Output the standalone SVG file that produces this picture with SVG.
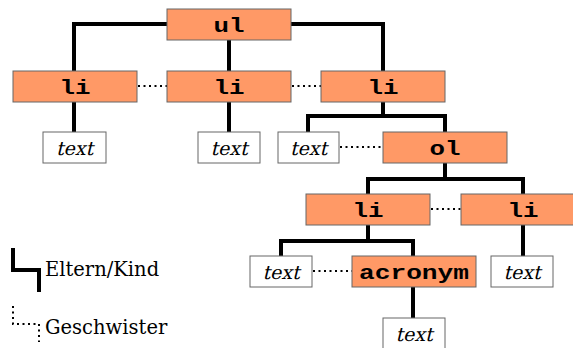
<svg xmlns="http://www.w3.org/2000/svg" width="573" height="348" viewBox="0 0 573 348">
<style>
.el{fill:#ff9966;stroke:#666;stroke-width:1}
.tx{fill:#fff;stroke:#666;stroke-width:1}
.et{font-family:"Liberation Mono","DejaVu Sans Mono",monospace;font-weight:bold;font-size:20px;text-anchor:middle;fill:#000}
.tt{font-family:"DejaVu Serif","Liberation Serif",serif;font-size:19px;text-anchor:middle;fill:#000}
.lg{font-family:"DejaVu Serif",serif;font-size:19.5px;fill:#000}
.pc{fill:none;stroke:#000;stroke-width:4;stroke-linejoin:miter}
.sb{fill:none;stroke:#000;stroke-width:2;stroke-dasharray:2 3.5}
</style>
<rect width="573" height="348" fill="#fff"/>
<g id="connectors">
<path class="pc" d="M167 24 H74 V71"/>
<path class="pc" d="M229 40 V71"/>
<path class="pc" d="M291 24 H383 V71"/>
<path class="pc" d="M74 102 V132"/>
<path class="pc" d="M229 102 V132"/>
<path class="pc" d="M383 102 V116"/>
<path class="pc" d="M308 132 V116 H445 V132"/>
<path class="pc" d="M445 163 V179"/>
<path class="pc" d="M368 194 V179 H523 V194"/>
<path class="pc" d="M368 225 V241"/>
<path class="pc" d="M281 256 V241 H413 V256"/>
<path class="pc" d="M523 225 V256"/>
<path class="pc" d="M413 287 V318"/>
<path class="sb" d="M138 86 H167"/>
<path class="sb" d="M292 86 H321"/>
<path class="sb" d="M340 147 H383"/>
<path class="sb" d="M431 209 H461"/>
<path class="sb" d="M313 271 H352"/>
</g>
<g id="ul"><rect class="el" x="167" y="9" width="124" height="31"/><text class="et" x="229" y="31.5" textLength="31" lengthAdjust="spacingAndGlyphs">ul</text></g>
<g id="li1"><rect class="el" x="13" y="71" width="124" height="31"/><text class="et" x="75" y="93.5" textLength="31" lengthAdjust="spacingAndGlyphs">li</text></g>
<g id="li2"><rect class="el" x="167" y="71" width="124" height="31"/><text class="et" x="229" y="93.5" textLength="31" lengthAdjust="spacingAndGlyphs">li</text></g>
<g id="li3"><rect class="el" x="321" y="71" width="124" height="31"/><text class="et" x="383" y="93.5" textLength="31" lengthAdjust="spacingAndGlyphs">li</text></g>
<g id="text1"><rect class="tx" x="43" y="132" width="63" height="31"/><text class="tt" transform="translate(74.5 154.5) skewX(-14)">text</text></g>
<g id="text2"><rect class="tx" x="198" y="132" width="62" height="31"/><text class="tt" transform="translate(229 154.5) skewX(-14)">text</text></g>
<g id="text3"><rect class="tx" x="278" y="132" width="61" height="31"/><text class="tt" transform="translate(308.5 154.5) skewX(-14)">text</text></g>
<g id="ol"><rect class="el" x="383" y="132" width="124" height="31"/><text class="et" x="445" y="154.5" textLength="31" lengthAdjust="spacingAndGlyphs">ol</text></g>
<g id="li4"><rect class="el" x="306" y="194" width="124" height="31"/><text class="et" x="368" y="216.5" textLength="31" lengthAdjust="spacingAndGlyphs">li</text></g>
<g id="li5"><rect class="el" x="461" y="194" width="124" height="31"/><text class="et" x="523" y="216.5" textLength="31" lengthAdjust="spacingAndGlyphs">li</text></g>
<g id="text4"><rect class="tx" x="250" y="256" width="62" height="31"/><text class="tt" transform="translate(281 278.5) skewX(-14)">text</text></g>
<g id="acronym"><rect class="el" x="352" y="256" width="124" height="31"/><text class="et" x="414" y="278.5" textLength="110" lengthAdjust="spacingAndGlyphs">acronym</text></g>
<g id="text5"><rect class="tx" x="491" y="256" width="62" height="31"/><text class="tt" transform="translate(522 278.5) skewX(-14)">text</text></g>
<g id="text6"><rect class="tx" x="383" y="318" width="62" height="31"/><text class="tt" transform="translate(414 340.5) skewX(-14)">text</text></g>
<g id="legend">
<path class="pc" d="M13 248 V270 H39 V292"/>
<text class="lg" x="45" y="276">Eltern/Kind</text>
<path class="sb" d="M13 306 V324 H39 V342"/>
<text class="lg" x="45" y="334">Geschwister</text>
</g>
</svg>
